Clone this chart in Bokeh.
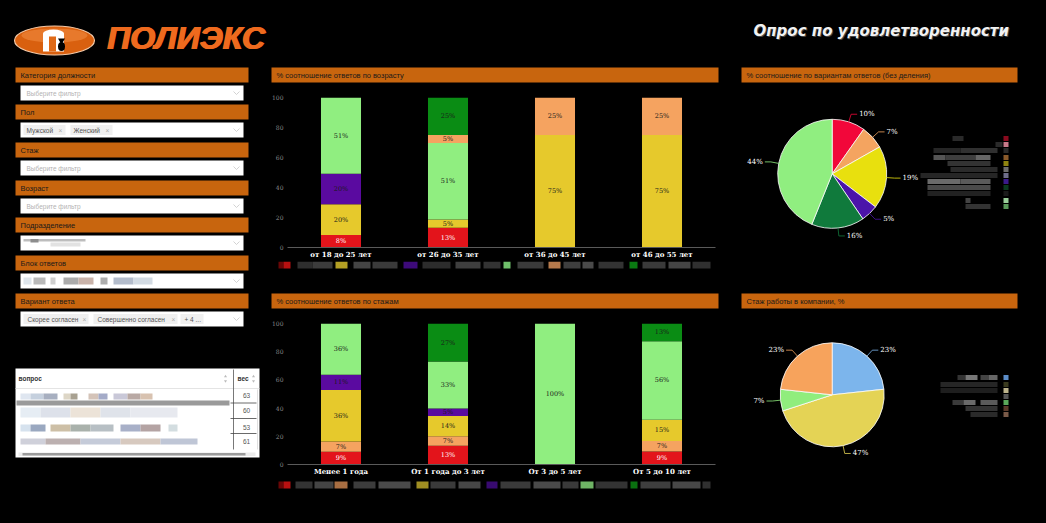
import math
from bokeh.plotting import figure
from bokeh.layouts import column, row
from bokeh.models import Range1d, FactorRange, ColumnDataSource, FixedTicker
from bokeh.core.properties import value
from bokeh.embed import file_html
from bokeh.resources import INLINE

# ---------------- data ----------------
age_categories = ["от 18 до 25 лет", "от 26 до 35 лет", "от 36 до 45 лет", "от 46 до 55 лет"]
age_red        = [8.4, 13.2, 0, 0]
age_yellow     = [20.4, 5.4, 75, 75]
age_purple     = [20.4, 0, 0, 0]
age_lightgreen = [50.8, 51.0, 0, 0]
age_orange     = [0, 5.4, 25, 25]
age_darkgreen  = [0, 25.0, 0, 0]

tenure_categories = ["Менее 1 года", "От 1 года до 3 лет", "От 3 до 5 лет", "От 5 до 10 лет"]
ten_red        = [9.1, 13.3, 0, 9.3]
ten_orange     = [7.3, 6.7, 0, 7.4]
ten_yellow     = [36.4, 14.4, 0, 15.1]
ten_purple     = [10.9, 5.3, 0, 0]
ten_lightgreen = [36.3, 33.3, 100, 55.6]
ten_darkgreen  = [0, 27.0, 0, 12.6]

answer_shares = [9.8, 7.0, 18.6, 5.1, 15.6, 43.9]   # pie 1, clockwise from 12 o'clock
tenure_shares = [23.3, 46.7, 6.7, 23.3]             # pie 2, clockwise from 12 o'clock

y_ticks = [0, 20, 40, 60, 80, 100]
filter_labels = ["Категория должности", "Пол", "Стаж", "Возраст",
                 "Подразделение", "Блок ответов", "Вариант ответа"]
table_weights = ["63", "60", "53", "61"]

# ---------------- styles ----------------
HDR = "#c8650e"
RED, ORANGE, YELLOW, PURPLE, LGREEN, DGREEN = "#e3141b", "#f5a360", "#e6c92c", "#5a0aa0", "#90ee80", "#0a8c14"
PIE1_COLORS = ["#f2073a", "#f4a460", "#e8e00e", "#4b14aa", "#107a3c", "#90ee80"]
PIE2_COLORS = ["#7cb5ec", "#e4d355", "#90ed7d", "#f7a35c"]
SANS = "Liberation Sans"
SERIF = "DejaVu Serif"


def no_align(p):
    try:
        p.frame_align = False
    except Exception:
        pass


def canvas(w, h):
    p = figure(width=w, height=h, x_range=Range1d(0, w), y_range=Range1d(h, 0),
               x_axis_type=None, y_axis_type=None, toolbar_location=None, tools="",
               output_backend="svg", min_border=0,
               background_fill_color="black", border_fill_color="black")
    p.outline_line_color = None
    no_align(p)
    return p


def txt(p, x, y, s, size="7px", color="#111", font=SANS, align="left", style="normal", baseline="middle"):
    p.text(x=[x], y=[y], text=[s], text_font=value(font), text_font_size=value(size),
           text_color=color, text_align=align, text_baseline=baseline, text_font_style=style)


def box(p, x0, x1, y0, y1, color, alpha=1.0):
    p.quad(left=[x0], right=[x1], top=[y0], bottom=[y1], fill_color=color, line_color=None, fill_alpha=alpha)


# ---------------- top header ----------------
top = canvas(1046, 60)
top.ellipse(x=[54], y=[40], width=[80], height=[29], fill_color="#d9600f", line_color="#f3c9a8", line_width=1.2)
top.ellipse(x=[54], y=[35], width=[66], height=[14], fill_color="#f08a40", line_color=None, fill_alpha=0.6)
top.ellipse(x=[53], y=[33], width=[21], height=[8], fill_color="white", line_color=None)
box(top, 42.5, 63.5, 33, 51, "white")
box(top, 48.5, 55.5, 36, 51, "#e06a18")
top.ellipse(x=[61], y=[46], width=[7], height=[9], fill_color="black", line_color=None)
top.triangle(x=[61], y=[40], size=7, fill_color="black", line_color=None, angle=math.pi)
for dx in (0, 0.8, 1.6):
    txt(top, 106 + dx, 37, "ПОЛИЭКС", size="32px", color="#ee6a1e", font=SANS, style="bold italic")
txt(top, 754, 31, "Опрос по удовлетворенности", size="15px", color="#444", font="DejaVu Sans", style="bold italic")
txt(top, 753, 30, "Опрос по удовлетворенности", size="15px", color="#f2f2f2", font="DejaVu Sans", style="bold italic")

# ---------------- left filter panel ----------------
left = canvas(265, 463)
hdr_tops = [7, 44, 82, 120, 157, 195, 233]
for i, lab in enumerate(filter_labels):
    t = hdr_tops[i]
    box(left, 15, 248, t, t + 15, HDR)
    txt(left, 20, t + 7.5, lab, size="7.5px", color="#1a1a1a")
    b = t + 18
    box(left, 20, 243, b, b + 15, "white")
    cy = b + 7.5
    left.line(x=[233, 236, 239], y=[cy - 1.5, cy + 1.5, cy - 1.5], line_color="#c8c8c8", line_width=0.8)
    if i in (0, 2, 3):
        txt(left, 26, cy, "Выберите фильтр", size="6.5px", color="#b3b3b3")
    elif i == 1:
        for x0, x1, s in [(23, 65, "Мужской"), (70, 112, "Женский")]:
            box(left, x0, x1, cy - 5, cy + 5, "#f0f0f0")
            txt(left, x0 + 3, cy, s, size="6.5px", color="#555")
            txt(left, x1 - 5, cy, "×", size="6.5px", color="#aaa", align="center")
    elif i == 6:
        for x0, x1, s, xx in [(23, 88, "Скорее согласен", True), (93, 177, "Совершенно согласен", True), (180, 203, "+ 4 ...", False)]:
            box(left, x0, x1, cy - 5, cy + 5, "#f0f0f0")
            txt(left, x0 + 4, cy, s, size="6.5px", color="#555")
            if xx:
                txt(left, x1 - 4, cy, "×", size="6.5px", color="#aaa", align="center")
    elif i == 4:
        box(left, 23, 85, cy - 4, cy - 1.5, "#bdbdbd")
        box(left, 30, 38, cy - 4, cy - 0.5, "#8d8d8d")
        box(left, 50, 80, cy - 0.5, cy + 3.5, "#e2e2e2")
    elif i == 5:
        for x0, x1, c in [(23, 31, "#dfe6ec"), (33, 45, "#b9b9b9"), (50, 55, "#cfcfcf"), (63, 78, "#ababab"),
                          (78, 93, "#c9b3aa"), (100, 107, "#adadad"), (113, 133, "#b3bccb"), (133, 152, "#d3dbe3")]:
            box(left, x0, x1, cy - 3.5, cy + 3.5, c)

# table
box(left, 15, 259, 308, 397, "white")
left.line(x=[15, 259], y=[328, 328], line_color="#dddddd", line_width=0.8)
txt(left, 18, 318, "вопрос", size="6.5px", color="#333", style="bold")
txt(left, 237, 318, "вес", size="6.5px", color="#333", style="bold")
for xs in (225, 253):
    left.triangle(x=[xs], y=[316], size=3, fill_color="#bbbbbb", line_color=None)
    left.inverted_triangle(x=[xs], y=[320.5], size=3, fill_color="#bbbbbb", line_color=None)
left.line(x=[233, 233], y=[309, 389], line_color="#555", line_width=0.8)
for yy, w in zip([335, 350, 367, 381], table_weights):
    txt(left, 246, yy, w, size="6.5px", color="#555", align="center")
for yy in [342.5, 358, 373]:
    left.line(x=[230, 256], y=[yy, yy], line_color="#444", line_width=0.8)
box(left, 16, 229, 340, 345, "#9a9a9a")
rows_blur = [
    (333, 339, [(20, 30, "#dfe6f0"), (30, 43, "#c5d0de"), (43, 57, "#a7afc0"), (63, 70, "#ddd6c6"), (70, 77, "#a8a191"),
                (88, 98, "#d4c3b8"), (98, 107, "#a4abc8"), (113, 127, "#c9c8d8"), (127, 140, "#b9a9a4"), (140, 152, "#d8c2b0")]),
    (347, 357, [(20, 40, "#e6edf4"), (40, 70, "#dde1ea"), (70, 100, "#ece3d8"), (100, 130, "#dfe3ea"), (130, 177, "#e7e9ef")]),
    (364, 371, [(20, 30, "#d6e2ee"), (30, 45, "#9aa8c0"), (50, 70, "#cdbfa6"), (70, 90, "#a9b1ab"), (90, 113, "#b7bfc4"),
                (120, 140, "#a8b0c8"), (140, 160, "#b4a3a3"), (168, 177, "#d3dde0")]),
    (378, 384, [(20, 45, "#cfd0da"), (45, 80, "#bcb0b0"), (80, 120, "#c5cbd9"), (120, 160, "#d7c9bf"), (160, 197, "#bfc6d6")]),
]
for y0, y1, blocks in rows_blur:
    for x0, x1, c in blocks:
        box(left, x0, x1, y0, y1, c)
box(left, 18, 255, 392, 395.5, "#ececec")
box(left, 22, 245, 392.5, 395, "#9b9b9b")
left.line(x=[257, 257], y=[329, 389], line_color="#e0e0e0", line_width=1)

# ---------------- stacked bar charts ----------------
def stacked(cats, series, colors, height, btop, bbottom):
    names = [f"s{i}" for i in range(len(series))]
    data = dict(cat=cats)
    for n, s in zip(names, series):
        data[n] = s
    src = ColumnDataSource(data)
    p = figure(x_range=FactorRange(*cats), y_range=Range1d(0, 100), width=460, height=height,
               toolbar_location=None, tools="", output_backend="svg",
               min_border_left=22, min_border_right=10, min_border_top=btop, min_border_bottom=bbottom,
               background_fill_color="black", border_fill_color="black")
    p.outline_line_color = None
    no_align(p)
    p.x_range.range_padding = 0
    p.vbar_stack(names, x="cat", width=0.374, fill_color=colors, line_color=None, source=src)
    lx, ly, lt, lc = [], [], [], []
    for j, c in enumerate(cats):
        cum = 0
        for s, col in zip(series, colors):
            v = s[j]
            if v > 0:
                lx.append(c); ly.append(cum + v / 2); lt.append(f"{round(v)}%")
                lc.append("white" if col == RED else "#1a1a1a")
            cum += v
    p.text(x=lx, y=ly, text=lt, text_color=lc, text_font=value(SERIF), text_font_size=value("6.5px"),
           text_align="center", text_baseline="middle")
    p.xgrid.visible = False
    p.ygrid.visible = False
    p.yaxis.ticker = FixedTicker(ticks=y_ticks)
    p.yaxis.axis_line_color = None
    p.yaxis.major_tick_line_color = None
    p.yaxis.minor_tick_line_color = None
    p.yaxis.major_tick_out = 0
    p.yaxis.major_tick_in = 0
    p.yaxis.major_label_standoff = 4
    p.yaxis.major_label_text_color = "#8a8a8a"
    p.yaxis.major_label_text_font = SERIF
    p.yaxis.major_label_text_font_size = "6px"
    p.xaxis.axis_line_color = "#5a5a5a"
    p.xaxis.major_tick_line_color = None
    p.xaxis.major_tick_out = 0
    p.xaxis.major_tick_in = 0
    p.xaxis.major_label_standoff = 2
    p.xaxis.major_label_text_color = "white"
    p.xaxis.major_label_text_font = SERIF
    p.xaxis.major_label_text_font_style = "bold"
    p.xaxis.major_label_text_font_size = "7px"
    return p


def header_strip(h, t, label, w=460, x0=6, x1=453):
    p = canvas(w, h)
    box(p, x0, x1, t, t + 15, HDR)
    txt(p, x0 + 5, t + 7.5, label, size="7.5px", color="#1a1a1a")
    return p


def legend_strip(h, ty, items):
    p = canvas(460, h)
    for x0, x1, c in items:
        box(p, x0 - 265, x1 - 265, ty, ty + 7, c)
    return p


h1 = header_strip(28, 7, "% соотношение ответов по возрасту")
bar1 = stacked(age_categories, [age_red, age_yellow, age_purple, age_lightgreen, age_orange, age_darkgreen],
               [RED, YELLOW, PURPLE, LGREEN, ORANGE, DGREEN], 173, 9, 11)
leg1 = legend_strip(24, 0, [
    (278, 283, "#6a0606"), (283, 290, "#b81010"), (297, 312, "#2e2e2e"), (312, 332, "#3c3c3c"), (335, 347, "#b4a024"),
    (353, 370, "#444"), (372, 397, "#3a3a3a"), (403, 417, "#3d0a7a"), (422, 450, "#2c2c2c"), (455, 480, "#3e3e3e"),
    (483, 500, "#333"), (503, 510, "#6fbf6a"), (517, 543, "#3a3a3a"), (548, 560, "#b67a4c"), (563, 580, "#3e3e3e"),
    (582, 593, "#4a4a4a"), (598, 623, "#333"), (629, 637, "#0a7a12"), (642, 665, "#3a3a3a"), (668, 690, "#454545"),
    (692, 710, "#303030")])

h2 = header_strip(30, 8, "% соотношение ответов по стажам")
bar2 = stacked(tenure_categories, [ten_red, ten_orange, ten_yellow, ten_purple, ten_lightgreen, ten_darkgreen],
               [RED, ORANGE, YELLOW, PURPLE, LGREEN, DGREEN], 163, 8, 11)
leg2 = legend_strip(45, 3, [
    (278, 283, "#6a0606"), (283, 290, "#b81010"), (295, 312, "#333"), (314, 333, "#444"), (334, 347, "#a86e42"),
    (353, 375, "#3c3c3c"), (378, 410, "#4a4a4a"), (416, 428, "#a08e22"), (430, 455, "#3a3a3a"), (458, 480, "#474747"),
    (486, 497, "#380a70"), (500, 530, "#3a3a3a"), (533, 560, "#4a4a4a"), (562, 578, "#3a3a3a"), (580, 593, "#6fb465"),
    (595, 627, "#333"), (630, 637, "#0a7010"), (640, 670, "#3e3e3e"), (672, 700, "#484848"), (702, 710, "#303030")])

# ---------------- pies ----------------
def pie(p, cx, cy, r, shares, colors):
    total = float(sum(shares))
    starts, ends, mids = [], [], []
    cum = 0.0
    for v in shares:
        a_start = math.pi / 2 - 2 * math.pi * (cum + v) / total
        a_end = math.pi / 2 - 2 * math.pi * cum / total
        starts.append(a_start); ends.append(a_end); mids.append((a_start + a_end) / 2)
        cum += v
    p.wedge(x=cx, y=cy, radius=r, start_angle=starts, end_angle=ends,
            fill_color=colors, line_color="white", line_width=0.8)
    for v, m, c in zip(shares, mids, colors):
        ex, ey = cx + r * math.cos(m), cy - r * math.sin(m)
        ox, oy = cx + (r + 8) * math.cos(m), cy - (r + 8) * math.sin(m)
        sgn = 1 if math.cos(m) >= 0 else -1
        hx = ox + 6 * sgn
        p.line(x=[ex, ox, hx], y=[ey, oy, oy], line_color=c, line_width=0.8)
        txt(p, hx + 2 * sgn, oy, f"{round(v)}%", size="7px", color="white", font=SERIF,
            align="left" if sgn > 0 else "right")


def pie_legend(p, rows, ox, oy):
    for y, blocks, sq in rows:
        for x0, x1, c in blocks:
            box(p, x0 - ox, x1 - ox, y - oy - 2.5, y - oy + 2.5, c)
        box(p, 1003 - ox, 1008 - ox, y - oy - 2.5, y - oy + 2.5, sq)


pie1 = canvas(321, 225)
box(pie1, 16, 292, 7, 22, HDR)
txt(pie1, 21, 14.5, "% соотношение по вариантам ответов (без деления)", size="7.5px", color="#1a1a1a")
pie(pie1, 106.7, 113.3, 54.5, answer_shares, PIE1_COLORS)
pie_legend(pie1, [
    (138, [(952, 963, "#2a2a2a")], "#8a0a1e"), (144, [(995, 1002, "#2a2a2a")], "#c87a8a"),
    (150, [(933, 960, "#262626"), (960, 997, "#303030")], "#2a2a2a"),
    (157, [(933, 945, "#555"), (945, 975, "#3e3e3e"), (975, 990, "#666")], "#8a5a2a"),
    (163, [(947, 990, "#333")], "#8e8410"), (169, [(950, 997, "#2b2b2b")], "#6e6e6e"),
    (175, [(920, 997, "#262626")], "#6e6e8a"), (181, [(927, 960, "#6a6a6a"), (960, 990, "#5a5a5a")], "#3a1a8a"),
    (187, [(927, 990, "#4a4a4a")], "#0a3a1e"), (193, [(927, 990, "#222")], "#1a1a1a"),
    (200, [(965, 970, "#444")], "#9acf9a"), (206, [(965, 990, "#333")], "#5a9a5a")], 725, 60)

pie2 = canvas(321, 238)
box(pie2, 16, 292, 8, 23, HDR)
txt(pie2, 21, 15.5, "Стаж работы в компании, %", size="7.5px", color="#1a1a1a")
pie(pie2, 106.7, 109.3, 52, tenure_shares, PIE2_COLORS)
pie_legend(pie2, [
    (377, [(957, 965, "#333"), (965, 977, "#777"), (980, 988, "#444"), (988, 997, "#666")], "#5b8cc8"),
    (384, [(940, 997, "#262626")], "#3a3a1e"), (390, [(940, 997, "#1e1e1e")], "#bdb48c"),
    (396, [], "#555"),
    (402, [(952, 963, "#3a3a3a"), (963, 975, "#6a6a6a"), (980, 997, "#5a5a5a")], "#5aa85a"),
    (408, [(965, 997, "#333")], "#5a3a2a"), (414, [(970, 997, "#2a2a2a")], "#7a5a48")], 725, 285)

# ---------------- layout ----------------
mid = column(h1, bar1, leg1, h2, bar2, leg2, spacing=0)
right = column(pie1, pie2, spacing=0)
body = row(left, mid, right, spacing=0)
page = column(top, body, spacing=0, styles={"background-color": "black"})

open("out.html", "w").write(file_html(page, INLINE))
